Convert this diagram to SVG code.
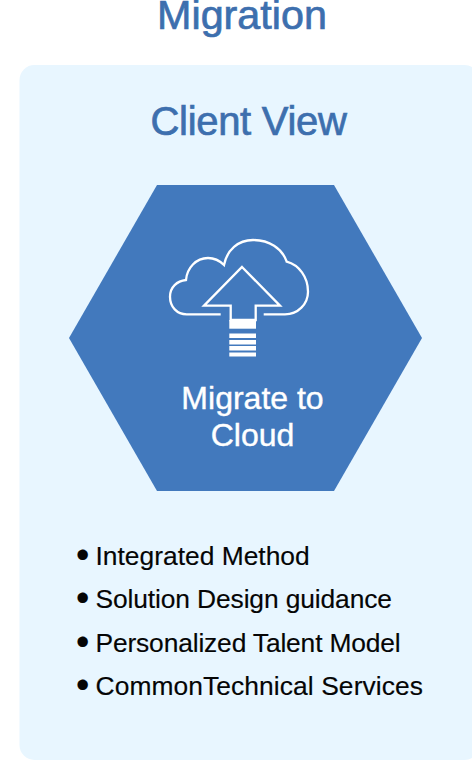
<svg xmlns="http://www.w3.org/2000/svg" width="472" height="782" viewBox="0 0 472 782">
<style>
text{font-family:"Liberation Sans",Arial,sans-serif}
.title{font-size:40px;fill:#3d6fae;stroke:#3d6fae;stroke-width:.7px;text-anchor:middle}
.hex{font-size:32px;fill:#fff;stroke:#fff;stroke-width:.4px;text-anchor:middle}
.item{font-size:26.4px;fill:#050505;stroke:#050505;stroke-width:.15px}
.bul{font-size:38px}
.line{fill:none;stroke:#fff;stroke-width:2.300}
</style>
<rect width="472" height="782" fill="#fff"/>
<text id="heading" class="title" x="242" y="29" style="font-size:41.300px">Migration</text>
<g id="panel">
<rect x="19.500" y="65" width="460" height="695" rx="15" fill="#e8f6ff"/>
<text class="title" x="248.500" y="135" letter-spacing="-.3">Client View</text>
</g>
<g id="hexagon">
<polygon points="157,185 334,185 422,338 334,491 157,491 69,338" fill="#4279bd"/>
<path class="line" d="M263.700 314.300H285C298 314.300 308 304 308 291.700C308 277 299 265 286.700 261.700C282 248 269 240 253 240C238 240 227 250 224 265C218 259 212 258 208 258C196 258 187 268 186 280C177 281 170 287 170 296.700C170 307 177 314.300 186.700 314.300H220.700"/>
<path class="line" d="M242 267L280 305.700H255.700V320H230.700V305.700H204Z"/>
<rect x="229.300" y="320" width="26.700" height="8.700" fill="#fff"/>
<rect x="229.300" y="333.500" width="26.700" height="4.500" fill="#fff"/>
<rect x="229.300" y="340" width="26.700" height="4.500" fill="#fff"/>
<rect x="229.300" y="346" width="26.700" height="4.500" fill="#fff"/>
<rect x="229.300" y="352.500" width="26.700" height="4" fill="#fff"/>
<text class="hex" x="252.500" y="409">Migrate to</text>
<text class="hex" x="252.500" y="446">Cloud</text>
</g>
<g id="list">
<text class="item" y="565"><tspan class="bul" x="76" dy="2.500">•</tspan><tspan x="95.500" dy="-2.500">Integrated Method</tspan></text>
<text class="item" y="608" ><tspan class="bul" x="76" dy="2.500">•</tspan><tspan x="95.500" dy="-2.500" letter-spacing="-.125">Solution Design guidance</tspan></text>
<text class="item" y="652"><tspan class="bul" x="76" dy="2.500">•</tspan><tspan x="95.500" dy="-2.500" letter-spacing="-.16">Personalized Talent Model</tspan></text>
<text class="item" y="695"><tspan class="bul" x="76" dy="2.500">•</tspan><tspan x="95.500" dy="-2.500" letter-spacing=".08">CommonTechnical Services</tspan></text>
</g>
</svg>
